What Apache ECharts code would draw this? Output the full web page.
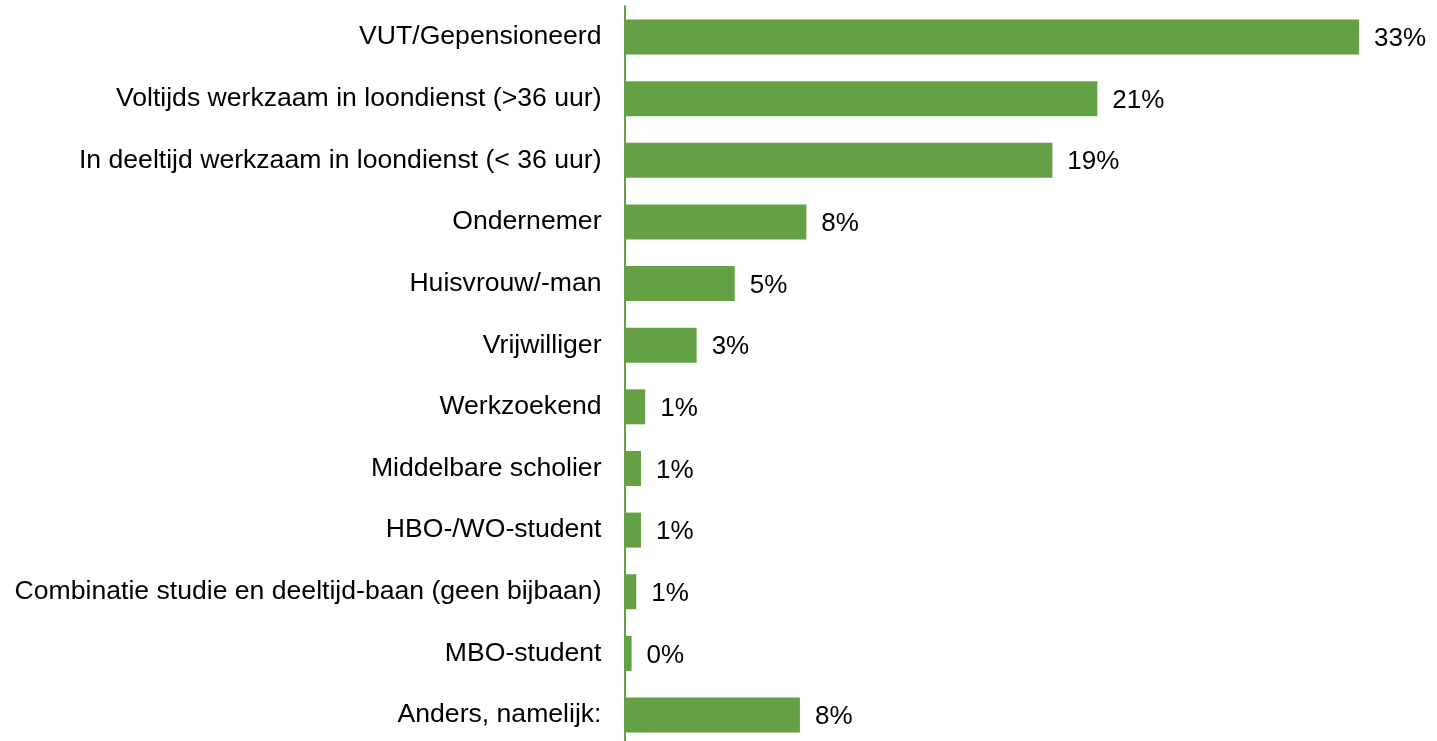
<!DOCTYPE html>
<html>
<head>
<meta charset="utf-8">
<script src="https://cdn.jsdelivr.net/npm/echarts@6/dist/echarts.min.js"></script>
<style>html,body{margin:0;padding:0;background:#fff;overflow:hidden;}#c{width:1437px;height:750px;}</style>
</head>
<body>
<div id="c"></div>
<script>
const categories = [
  'VUT/Gepensioneerd',
  'Voltijds werkzaam in loondienst (>36 uur)',
  'In deeltijd werkzaam in loondienst (< 36 uur)',
  'Ondernemer',
  'Huisvrouw/-man',
  'Vrijwilliger',
  'Werkzoekend',
  'Middelbare scholier',
  'HBO-/WO-student',
  'Combinatie studie en deeltijd-baan (geen bijbaan)',
  'MBO-student',
  'Anders, namelijk:'
];
const values = [33.0, 21.24, 19.22, 8.17, 4.95, 3.24, 0.93, 0.74, 0.74, 0.53, 0.32, 7.88];

const chart = echarts.init(document.getElementById('c'));
chart.setOption({
  animation: false,
  grid: { left: 624.5, top: 6.2, height: 739.6, width: 801.4, containLabel: false },
  xAxis: {
    type: 'value', min: 0, max: 36,
    show: false, splitLine: { show: false }
  },
  yAxis: {
    type: 'category', data: categories, inverse: true,
    axisLine: { show: true, lineStyle: { color: '#64A044', width: 2 } },
    axisTick: { show: false },
    axisLabel: { color: '#000', fontSize: 26.6, fontFamily: 'Liberation Sans, Arial, sans-serif', margin: 23, padding: [3, 0, 0, 0] }
  },
  series: [{
    type: 'bar', data: values, barWidth: 35,
    itemStyle: { color: '#64A044' },
    label: {
      show: true, position: 'right', distance: 15, offset: [0, 2],
      color: '#000', fontSize: 26, fontFamily: 'Liberation Sans, Arial, sans-serif',
      formatter: p => Math.round(p.value) + '%'
    }
  }]
});
</script>
</body>
</html>
